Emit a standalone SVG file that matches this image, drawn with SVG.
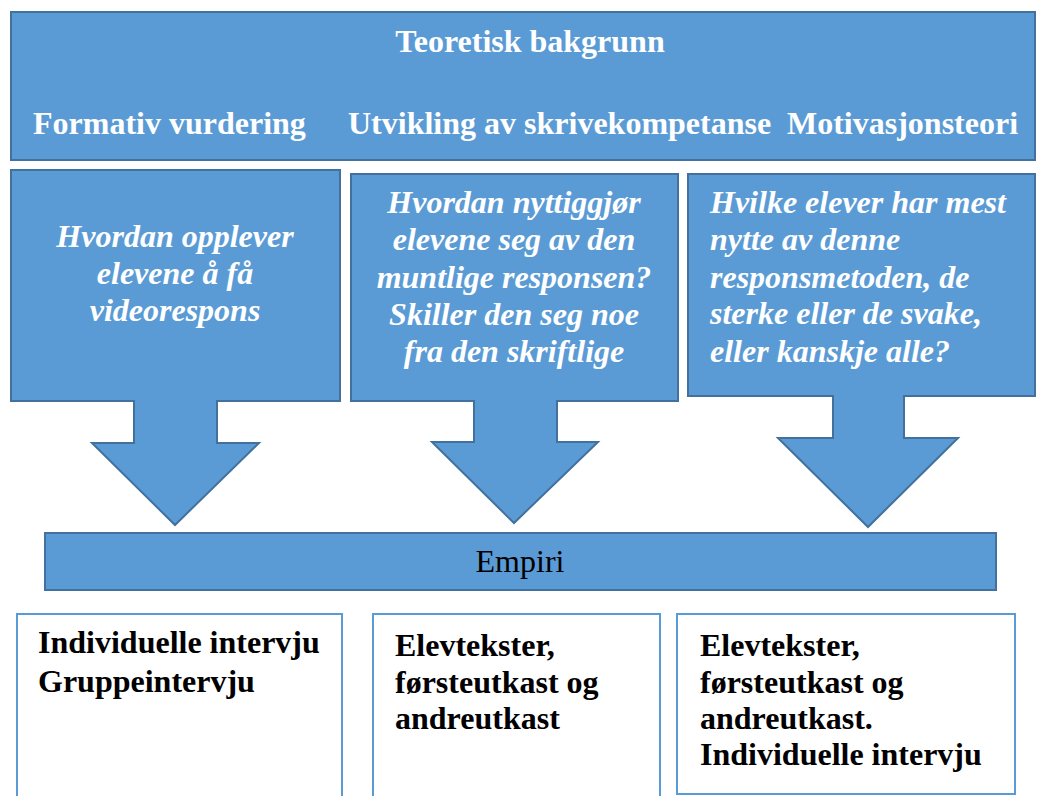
<svg xmlns="http://www.w3.org/2000/svg" width="1037" height="796" viewBox="0 0 1037 796">
<style>
.blue{fill:#5b9bd5;stroke:#41719c;stroke-width:2}
.hd{font-family:"Liberation Serif",serif;font-weight:bold;font-size:32px;fill:#fff}
.q{font-family:"Liberation Serif",serif;font-weight:bold;font-style:italic;font-size:32px;fill:#fff}
.emp{font-family:"Liberation Serif",serif;font-size:32px;fill:#000}
.box{fill:#fff;stroke:#5b9bd5;stroke-width:2}
.bt{font-family:"Liberation Serif",serif;font-weight:bold;font-size:32px;fill:#000}
</style>
<g id="teoretisk">
<rect class="blue" x="11" y="12" width="1024" height="148"/>
<text class="hd" x="530" y="52" text-anchor="middle">Teoretisk bakgrunn</text>
<text class="hd" x="33" y="134">Formativ vurdering</text>
<text class="hd" x="348" y="134">Utvikling av skrivekompetanse</text>
<text class="hd" x="787" y="134">Motivasjonsteori</text>
</g>
<g id="arrow1">
<path class="blue" d="M11,170 H340 V401 H217 V443 H259 L175,525 L92,443 H134 V401 H11 Z"/>
<text class="q" text-anchor="middle"><tspan x="175" y="247">Hvordan opplever</tspan><tspan x="175" y="284">elevene å få</tspan><tspan x="175" y="321">videorespons</tspan></text>
</g>
<g id="arrow2">
<path class="blue" d="M351,174 H678 V401 H557 V442 H598 L514,523 L432,442 H474 V401 H351 Z"/>
<text class="q" text-anchor="middle"><tspan x="514" y="213">Hvordan nyttiggjør</tspan><tspan x="514" y="250">elevene seg av den</tspan><tspan x="514" y="288">muntlige responsen?</tspan><tspan x="514" y="325">Skiller den seg noe</tspan><tspan x="514" y="362">fra den skriftlige</tspan></text>
</g>
<g id="arrow3">
<path class="blue" d="M688,174 H1035 V396 H904 V438 H958 L868,527 L778,438 H833 V396 H688 Z"/>
<text class="q"><tspan x="710" y="213">Hvilke elever har mest</tspan><tspan x="710" y="250">nytte av denne</tspan><tspan x="710" y="288">responsmetoden, de</tspan><tspan x="710" y="324">sterke eller de svake,</tspan><tspan x="710" y="362">eller kanskje alle?</tspan></text>
</g>
<g id="empiri">
<rect class="blue" x="45" y="533" width="951" height="57"/>
<text class="emp" x="520" y="572" text-anchor="middle">Empiri</text>
</g>
<g id="method1">
<rect class="box" x="17" y="614" width="325" height="190"/>
<text class="bt"><tspan x="38" y="653">Individuelle intervju</tspan><tspan x="38" y="692">Gruppeintervju</tspan></text>
</g>
<g id="method2">
<rect class="box" x="373" y="614" width="287" height="190"/>
<text class="bt"><tspan x="395" y="656">Elevtekster,</tspan><tspan x="395" y="693">førsteutkast og</tspan><tspan x="395" y="729">andreutkast</tspan></text>
</g>
<g id="method3">
<rect class="box" x="677" y="614" width="338" height="180"/>
<text class="bt"><tspan x="700" y="656">Elevtekster,</tspan><tspan x="700" y="693">førsteutkast og</tspan><tspan x="700" y="729">andreutkast.</tspan><tspan x="700" y="765">Individuelle intervju</tspan></text>
</g>
<g id="connectors"></g>
</svg>
